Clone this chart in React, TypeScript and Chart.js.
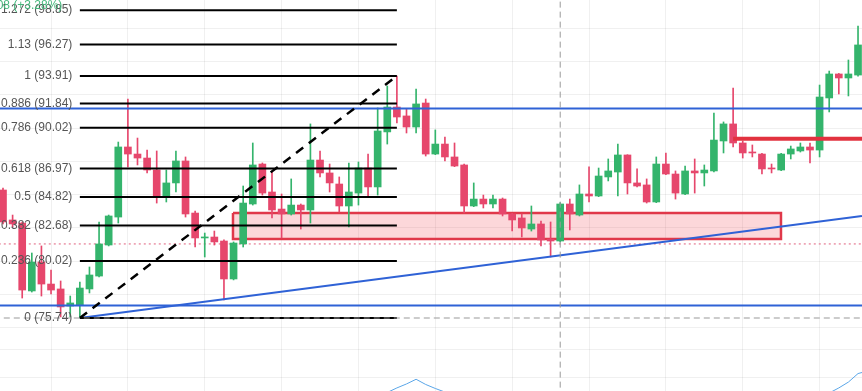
import React, { useEffect, useRef } from 'react';
import { Chart, registerables } from 'chart.js';

Chart.register(...registerables);

// ---- Candle data (index 0..89) ----
const opens = [85.35, 83.10, 82.87, 77.77, 79.94, 78.29, 77.92, 76.64, 76.72, 77.92,
  78.89, 81.22, 83.32, 88.58, 88.05, 87.75, 86.85, 84.90, 85.88, 87.53,
  83.62, 81.75, 81.82, 81.52, 78.67, 81.30, 84.30, 87.30, 85.20, 83.92,
  83.55, 84.22, 83.85, 87.60, 86.63, 85.80, 84.15, 85.12, 87.00, 85.58,
  89.71, 91.58, 90.91, 90.08, 91.88, 88.05, 88.80, 87.83, 87.23, 84.15,
  84.67, 84.30, 84.67, 83.55, 83.25, 82.42, 82.80, 81.67, 81.52, 84.30,
  83.47, 85.05, 84.90, 86.33, 86.70, 87.98, 85.88, 85.73, 84.45, 87.30,
  86.55, 85.05, 86.78, 86.63, 86.78, 89.03, 90.31, 88.88, 88.20, 88.05,
  87.00, 86.85, 88.05, 88.28, 88.58, 88.35, 92.26, 94.06, 93.76, 93.98];
const highs = [85.50, 83.47, 82.95, 80.62, 81.15, 79.34, 78.52, 77.39, 78.44, 79.57,
  82.95, 83.47, 88.95, 92.18, 89.25, 88.35, 88.28, 86.85, 88.28, 87.83,
  83.77, 82.12, 82.27, 81.60, 81.45, 85.65, 88.88, 87.38, 86.70, 85.05,
  86.18, 84.30, 90.31, 88.28, 87.30, 86.33, 87.38, 87.45, 88.05, 91.51,
  93.16, 93.91, 91.43, 92.93, 92.18, 89.86, 89.33, 88.88, 87.30, 85.88,
  84.97, 84.97, 84.75, 83.60, 83.55, 84.15, 83.02, 82.95, 84.40, 84.67,
  85.73, 87.08, 87.00, 87.68, 88.80, 88.00, 86.93, 86.18, 87.83, 88.13,
  86.78, 87.15, 87.68, 87.23, 91.13, 90.46, 93.01, 89.03, 88.73, 88.10,
  87.30, 88.10, 88.65, 88.88, 88.88, 93.23, 94.28, 94.10, 95.11, 97.66];
const lows = [82.80, 82.57, 77.24, 77.69, 77.39, 77.54, 75.82, 75.82, 75.74, 77.62,
  78.82, 81.15, 82.87, 87.08, 87.23, 86.63, 84.37, 84.45, 85.20, 83.32,
  81.07, 80.32, 81.22, 77.09, 78.60, 81.07, 84.22, 84.97, 83.25, 81.75,
  83.47, 82.42, 82.87, 86.33, 85.20, 83.70, 82.57, 84.22, 84.90, 84.97,
  88.80, 90.38, 89.63, 89.63, 87.90, 88.00, 87.53, 87.10, 83.62, 84.10,
  84.00, 84.00, 83.40, 82.27, 81.82, 82.27, 81.15, 80.32, 81.45, 82.35,
  83.40, 84.45, 84.85, 86.03, 84.90, 85.05, 85.58, 84.37, 84.40, 86.50,
  84.67, 85.00, 85.12, 85.65, 86.70, 88.13, 88.58, 87.75, 87.83, 86.55,
  86.63, 86.80, 87.68, 88.20, 87.38, 87.83, 91.21, 92.56, 92.41, 93.90];
const closes = [82.95, 82.80, 77.84, 79.94, 78.29, 77.84, 76.57, 76.87, 77.99, 78.97,
  81.30, 83.40, 88.58, 88.05, 87.75, 86.85, 84.90, 85.88, 87.53, 83.55,
  81.75, 81.82, 81.45, 78.67, 81.37, 84.37, 87.23, 85.12, 83.85, 83.55,
  84.22, 83.85, 87.60, 86.63, 85.88, 84.15, 85.20, 87.00, 85.58, 89.78,
  91.58, 90.83, 90.08, 91.81, 88.05, 88.80, 87.83, 87.15, 84.15, 84.67,
  84.30, 84.67, 83.55, 83.10, 82.50, 82.80, 81.60, 81.52, 84.30, 83.55,
  85.05, 84.90, 86.40, 86.78, 87.98, 85.88, 85.65, 84.45, 87.30, 86.55,
  85.12, 86.78, 86.63, 86.85, 89.10, 90.31, 88.88, 88.13, 88.13, 86.93,
  86.93, 88.05, 88.43, 88.58, 88.35, 92.33, 94.06, 93.76, 94.06, 96.24];

// ---- Fibonacci retracement ----
const fibLevels = [0, 0.236, 0.382, 0.5, 0.618, 0.786, 0.886, 1, 1.13, 1.272];
const fibPrices = [75.74, 80.02, 82.68, 84.82, 86.97, 90.02, 91.84, 93.91, 96.27, 98.85];
const fibStartIndex = 8;
const fibEndIndex = 41;

// ---- Drawings ----
const blueLevels = [91.47, 76.68];
const trendIdx = [8, 89.41];
const trendPrices = [75.74, 83.40];
const zoneIdx = [23.94, 80.98];
const zonePrices = [83.62, 81.67];
const resistIdx = [76, 91];
const resistPrice = 89.2;
const currentPrice = 81.3;
const crossIndex = 58;
const crossPrice = 75.74;
const indicatorLeftIdx = [40, 41, 42, 43, 44, 45, 46];
const indicatorLeftVals = [70.15, 70.49, 70.79, 71.14, 70.75, 70.45, 70.18];
const indicatorRightIdx = [86, 87, 88, 89, 90];
const indicatorRightVals = [70.11, 70.49, 70.93, 71.57, 71.76];
const changeLabel = '3.08 (+3.28%)';

// ---- Axes ----
const xMin = -0.312;
const xMax = 89.414;
const yMin = 70.26;
const yMax = 99.614;
const xGridTicks = [1, 9, 17, 25, 33, 41, 49, 57, 65, 73, 81, 89];
const yGridTicks = [71.31, 73.41, 75, 77.5, 80, 82.5, 85, 87.5, 90, 92.5, 95, 97.5];

const GREEN = '#34b46c';
const RED = '#e6476c';
const BLUE = '#2f62d6';

const lineBase = { type: 'line' as const, pointRadius: 0, tension: 0, fill: false };

export default function App() {
  const ref = useRef<HTMLCanvasElement>(null);
  useEffect(() => {
    if (!ref.current) return;
    const idx = opens.map((_, i) => i);
    const colors = idx.map(i => (closes[i] >= opens[i] ? GREEN : RED));

    const labelPlugin = {
      id: 'fibLabels',
      afterDatasetsDraw(chart: any) {
        const { ctx, scales } = chart;
        const xs = scales.x, ys = scales.y;
        ctx.save();
        ctx.font = '12px "Liberation Sans", Arial, sans-serif';
        ctx.textAlign = 'right';
        ctx.textBaseline = 'middle';
        ctx.fillStyle = '#555555';
        const xr = xs.getPixelForValue(fibStartIndex) - 7.5;
        fibLevels.forEach((lv, k) => {
          ctx.fillText(`${lv} (${fibPrices[k].toFixed(2)})`, xr, ys.getPixelForValue(fibPrices[k]));
        });
        ctx.fillStyle = '#45b87c';
        ctx.fillText(changeLabel, xr - 10, 6);
        ctx.restore();
      },
    };

    const datasets: any[] = [
      // zone fill + outline
      {
        ...lineBase,
        order: 40,
        data: [{ x: zoneIdx[0], y: zonePrices[0] }, { x: zoneIdx[1], y: zonePrices[0] }],
        borderColor: 'rgba(0,0,0,0)',
        borderWidth: 0,
        backgroundColor: 'rgba(242,54,69,0.2)',
        fill: { target: { value: zonePrices[1] } },
      },
      {
        ...lineBase,
        order: 39,
        data: [
          { x: zoneIdx[0], y: zonePrices[0] }, { x: zoneIdx[1], y: zonePrices[0] },
          { x: zoneIdx[1], y: zonePrices[1] }, { x: zoneIdx[0], y: zonePrices[1] },
          { x: zoneIdx[0], y: zonePrices[0] },
        ],
        borderColor: '#e0384a',
        borderWidth: 2.5,
      },
      // current price dotted
      {
        ...lineBase,
        order: 38,
        data: [{ x: -2, y: currentPrice }, { x: 92, y: currentPrice }],
        borderColor: '#e0607e',
        borderWidth: 1,
        borderDash: [2, 3],
      },
      // wicks
      {
        type: 'bar',
        order: 31,
        grouped: false,
        data: idx.map(i => ({ x: i, y: [lows[i], highs[i]] })),
        backgroundColor: colors,
        barThickness: 1,
      },
      // bodies
      {
        type: 'bar',
        order: 30,
        grouped: false,
        minBarLength: 1,
        data: idx.map(i => ({ x: i, y: [opens[i], closes[i]] })),
        backgroundColor: colors,
        barThickness: 7,
      },
      // blue horizontal levels
      ...blueLevels.map(v => ({
        ...lineBase,
        order: 20,
        data: [{ x: -2, y: v }, { x: 92, y: v }],
        borderColor: BLUE,
        borderWidth: 2,
      })),
      // trendline
      {
        ...lineBase,
        order: 19,
        data: [{ x: trendIdx[0], y: trendPrices[0] }, { x: trendIdx[1], y: trendPrices[1] }],
        borderColor: BLUE,
        borderWidth: 2,
      },
      // fib lines
      ...fibPrices.map(p => ({
        ...lineBase,
        order: 18,
        data: [{ x: fibStartIndex, y: p }, { x: fibEndIndex, y: p }],
        borderColor: '#000000',
        borderWidth: 2,
      })),
      // fib diagonal
      {
        ...lineBase,
        order: 17,
        data: [{ x: fibStartIndex, y: fibPrices[0] }, { x: fibEndIndex, y: fibPrices[7] }],
        borderColor: '#000000',
        borderWidth: 2.5,
        borderDash: [9, 7],
      },
      // red resistance segment
      {
        ...lineBase,
        order: 16,
        data: [{ x: resistIdx[0], y: resistPrice }, { x: resistIdx[1], y: resistPrice }],
        borderColor: '#e2323f',
        borderWidth: 4,
      },
      // crosshair
      {
        ...lineBase,
        order: 15,
        data: [{ x: -2, y: crossPrice }, { x: 92, y: crossPrice }],
        borderColor: '#999999',
        borderWidth: 1,
        borderDash: [6, 4],
      },
      {
        ...lineBase,
        order: 15,
        data: [{ x: crossIndex, y: yMin - 2 }, { x: crossIndex, y: yMax + 2 }],
        borderColor: '#999999',
        borderWidth: 1,
        borderDash: [6, 4],
      },
      // indicator pane line
      {
        ...lineBase,
        order: 14,
        data: indicatorLeftIdx.map((x, k) => ({ x, y: indicatorLeftVals[k] })),
        borderColor: '#5aa6e8',
        borderWidth: 1,
      },
      {
        ...lineBase,
        order: 14,
        data: indicatorRightIdx.map((x, k) => ({ x, y: indicatorRightVals[k] })),
        borderColor: '#5aa6e8',
        borderWidth: 1,
      },
    ];

    const chart = new Chart(ref.current, {
      type: 'bar',
      data: { datasets },
      plugins: [labelPlugin],
      options: {
        responsive: false,
        animation: false,
        devicePixelRatio: 1,
        layout: { padding: 0 },
        plugins: { legend: { display: false }, tooltip: { enabled: false } },
        scales: {
          x: {
            type: 'linear',
            min: xMin,
            max: xMax,
            offset: false,
            grid: { color: 'rgba(0,0,0,0.06)', drawTicks: false },
            border: { display: false },
            ticks: { display: false },
            afterBuildTicks: (s: any) => { s.ticks = xGridTicks.map(v => ({ value: v })); },
          },
          y: {
            type: 'linear',
            min: yMin,
            max: yMax,
            grid: { color: 'rgba(0,0,0,0.06)', drawTicks: false },
            border: { display: false },
            ticks: { display: false },
            afterBuildTicks: (s: any) => { s.ticks = yGridTicks.map(v => ({ value: v })); },
          },
        },
      } as any,
    });
    return () => chart.destroy();
  }, []);

  return (
    <div style={{ position: 'fixed', left: 0, top: 0, width: 862, height: 391, background: '#ffffff' }}>
      <canvas ref={ref} width={862} height={391} style={{ display: 'block' }} />
    </div>
  );
}
